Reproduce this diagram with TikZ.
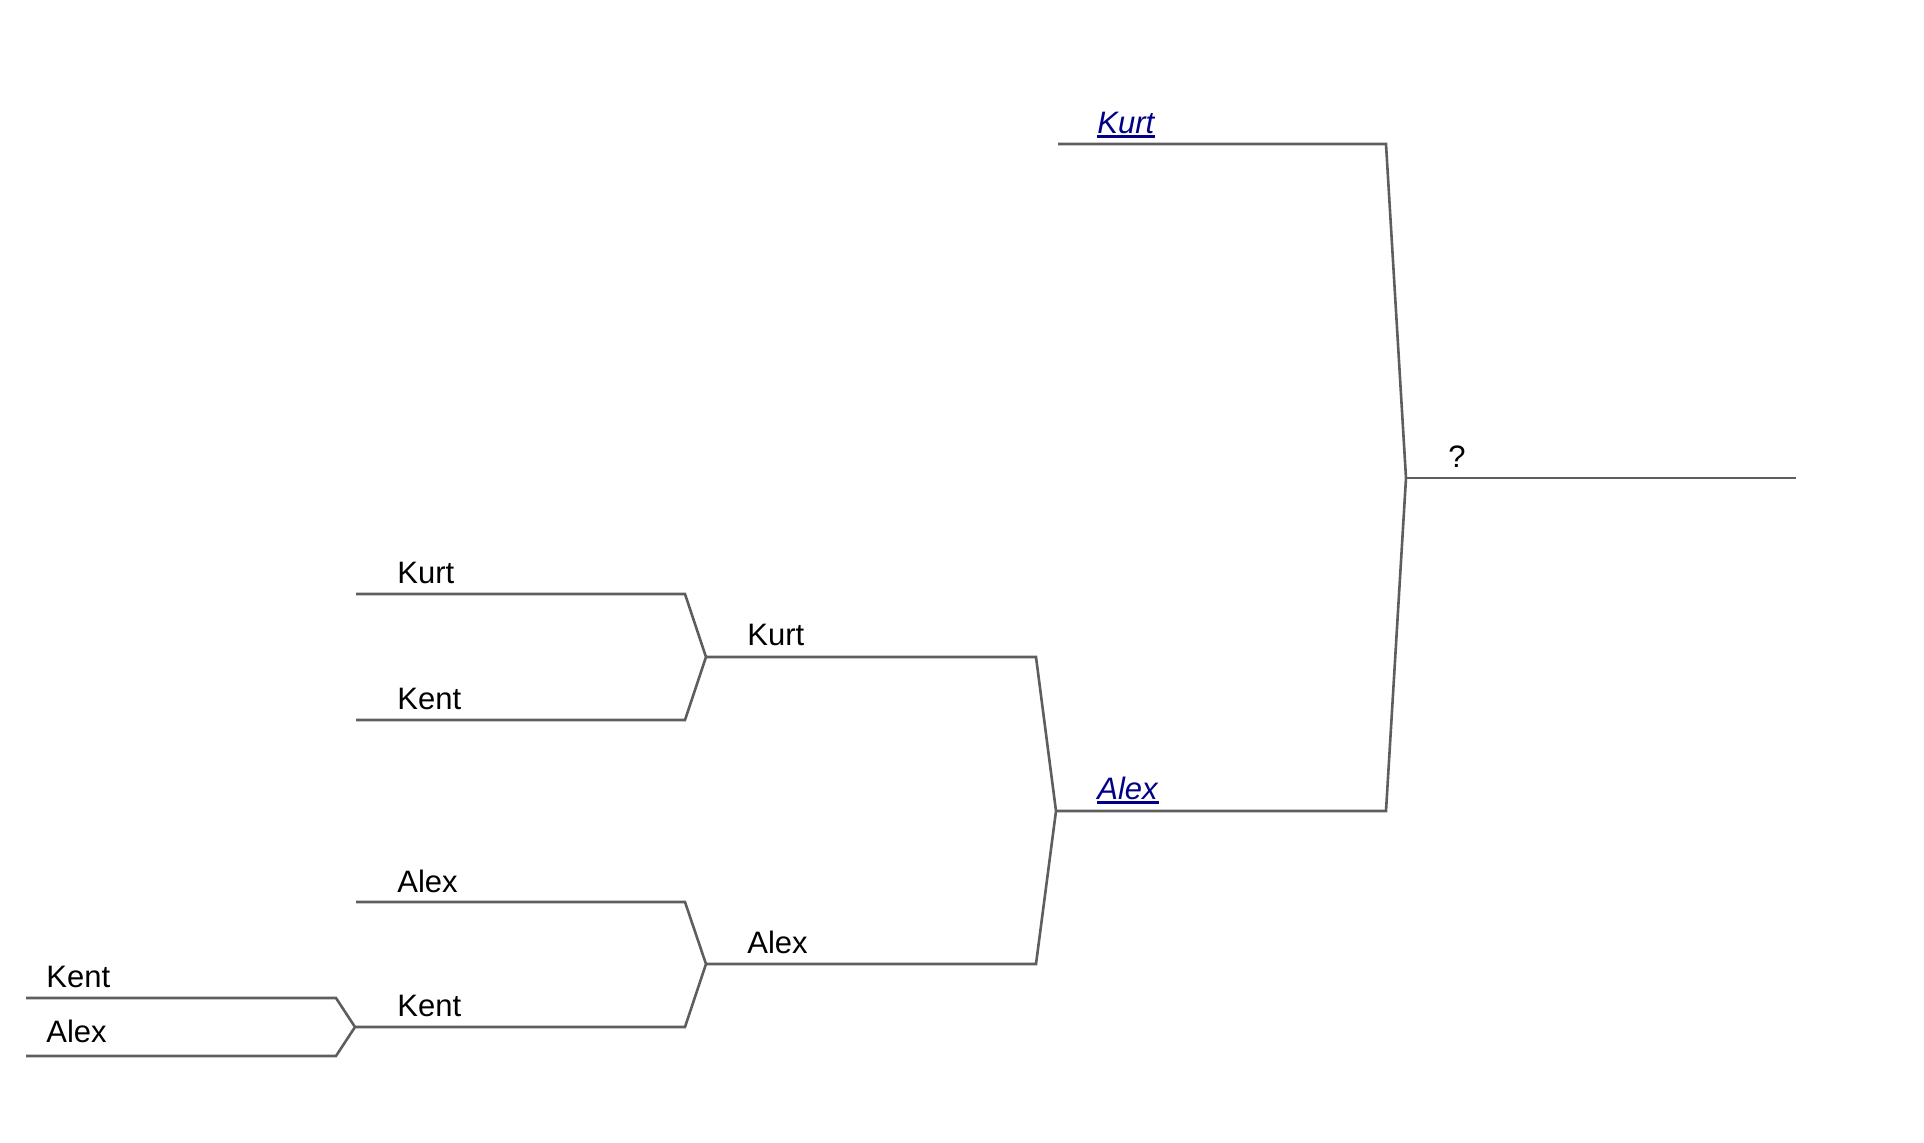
\documentclass[tikz,border=0pt]{standalone}
\usepackage{fontspec}
\setmainfont{Liberation Sans}
\definecolor{linegray}{HTML}{5E5E5E}
\definecolor{linkblue}{HTML}{000088}
\tikzset{
  bline/.style={draw=linegray, line width=1.3pt, line join=miter},
  lbl/.style={anchor=base west, inner sep=0pt, font=\fontsize{15.5pt}{18pt}\selectfont},
  lnk/.style={lbl, text=linkblue},
}
\newcommand{\lk}[1]{\leavevmode\vtop{\hbox{\textit{#1}}\kern0.8pt\hrule height 1.4pt}}
\begin{document}
\begin{tikzpicture}[x=0.5pt,y=-0.5pt]
\useasboundingbox (0,0) rectangle (1924,1142);
% round 1
\coordinate (r1a) at (26,998);  \coordinate (r1ae) at (336,998);
\coordinate (r1b) at (26,1056); \coordinate (r1be) at (336,1056);
\coordinate (j1) at (355,1027);
% round 2
\coordinate (r2a) at (356,594); \coordinate (r2ae) at (685,594);
\coordinate (r2b) at (356,720); \coordinate (r2be) at (685,720);
\coordinate (r2c) at (356,902); \coordinate (r2ce) at (685,902);
\coordinate (r2de) at (685,1027);
\coordinate (j2a) at (706,657);
\coordinate (j2b) at (706,964);
% round 3
\coordinate (r3ae) at (1036,657);
\coordinate (r3be) at (1036,964);
\coordinate (j3) at (1056,811);
% round 4
\coordinate (r4a) at (1058,144); \coordinate (r4ae) at (1386,144);
\coordinate (r4be) at (1386,811);
\coordinate (j4) at (1406,478);
% final
\coordinate (fe) at (1796,478);

\draw[bline] (r1a) -- (r1ae) -- (j1) -- (r1be) -- (r1b);
\draw[bline] (r2a) -- (r2ae) -- (j2a) -- (r2be) -- (r2b);
\draw[bline] (r2c) -- (r2ce) -- (j2b) -- (r2de) -- (j1);
\draw[bline] (j2a) -- (r3ae) -- (j3) -- (r3be) -- (j2b);
\draw[bline] (r4a) -- (r4ae) -- (j4) -- (r4be) -- (j3);
\draw[bline] (j4) -- (fe);

\node[lbl] (t1a) at (46,987) {Kent};
\node[lbl] (t1b) at (46,1042) {Alex};
\node[lbl] (t2a) at (397,583) {Kurt};
\node[lbl] (t2b) at (397,709) {Kent};
\node[lbl] (t2c) at (397,892) {Alex};
\node[lbl] (t2d) at (397,1016) {Kent};
\node[lbl] (t3a) at (747,645) {Kurt};
\node[lbl] (t3b) at (747,953) {Alex};
\node[lnk] (t4a) at (1097,133) {\lk{Kurt}};
\node[lnk] (t4b) at (1097,799) {\lk{Alex}};
\node[lbl] (tf) at (1448,467) {?};
\end{tikzpicture}
\end{document}
